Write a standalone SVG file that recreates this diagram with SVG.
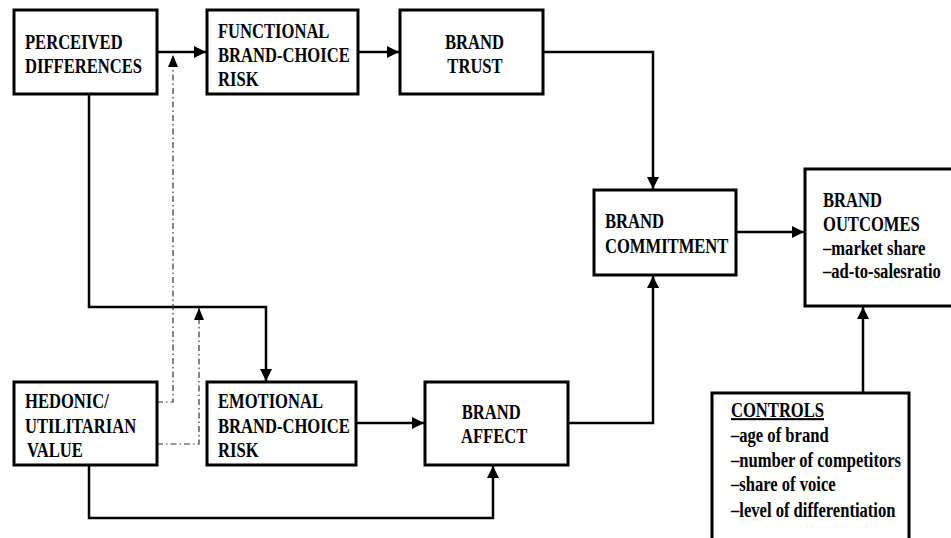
<svg xmlns="http://www.w3.org/2000/svg" width="951" height="538" viewBox="0 0 951 538">
<defs>
<style>
.box{fill:#fff;stroke:#000;stroke-width:3}
.t{font-family:'Liberation Serif','Times New Roman',serif;font-weight:bold;font-size:21px;fill:#000}
.c{fill:none;stroke:#000;stroke-width:2.5}
.d{fill:none;stroke:#333;stroke-width:1.2;stroke-dasharray:6 3 1.5 3}
</style>
<marker id="ah" markerUnits="userSpaceOnUse" markerWidth="12" markerHeight="12" viewBox="0 0 12 12" refX="12" refY="6" orient="auto">
<path d="M0,0 L12,6 L0,12 Z" fill="#000"/>
</marker>
<marker id="ahd" markerUnits="userSpaceOnUse" markerWidth="12" markerHeight="10" viewBox="0 0 12 10" refX="12" refY="5" orient="auto">
<path d="M0,0 L12,5 L0,10 Z" fill="#000"/>
</marker>
</defs>
<rect width="951" height="538" fill="#fff"/>
<g id="connectors">
<path class="c" d="M157,52 H206" marker-end="url(#ah)"/>
<path class="c" d="M358,52 H399" marker-end="url(#ah)"/>
<path class="c" d="M543,52 H653 V189" marker-end="url(#ah)"/>
<path class="c" d="M89,94 V307 H266 V381" marker-end="url(#ah)"/>
<path class="c" d="M356,423 H424" marker-end="url(#ah)"/>
<path class="c" d="M568,423 H653 V276" marker-end="url(#ah)"/>
<path class="c" d="M89,465 V518 H493 V466" marker-end="url(#ah)"/>
<path class="c" d="M736,232 H804" marker-end="url(#ah)"/>
<path class="c" d="M863,393 V307" marker-end="url(#ah)"/>
<path class="d" d="M157,402 H173 V55" marker-end="url(#ahd)"/>
<path class="d" d="M157,444 H199 V308" marker-end="url(#ahd)"/>
</g>
<g id="perceived-differences">
<rect class="box" x="14" y="10" width="143" height="84"/>
<g class="t" transform="translate(25,0) scale(0.79,1)">
<text y="49">PERCEIVED</text>
<text y="73">DIFFERENCES</text>
</g>
</g>
<g id="functional-risk">
<rect class="box" x="207" y="10" width="151" height="84"/>
<g class="t" transform="translate(218,0) scale(0.79,1)">
<text y="38">FUNCTIONAL</text>
<text y="62">BRAND-CHOICE</text>
<text y="86">RISK</text>
</g>
</g>
<g id="brand-trust">
<rect class="box" x="400" y="10" width="143" height="84"/>
<g class="t" transform="translate(445,0) scale(0.79,1)">
<text y="49">BRAND</text>
<text x="3" y="73">TRUST</text>
</g>
</g>
<g id="brand-commitment">
<rect class="box" x="594" y="190" width="142" height="85"/>
<g class="t" transform="translate(605,0) scale(0.79,1)">
<text y="228">BRAND</text>
<text y="253">COMMITMENT</text>
</g>
</g>
<g id="brand-outcomes">
<rect class="box" x="805" y="169" width="148" height="137"/>
<g class="t" transform="translate(823,0) scale(0.79,1)">
<text y="207">BRAND</text>
<text y="231">OUTCOMES</text>
<text y="255">–market share</text>
<text y="278">–ad-to-salesratio</text>
</g>
</g>
<g id="controls">
<rect class="box" x="712" y="393" width="197" height="150"/>
<g class="t" transform="translate(731,0) scale(0.79,1)">
<text y="417" text-decoration="underline">CONTROLS</text>
<text y="442">–age of brand</text>
<text y="467">–number of competitors</text>
<text y="491">–share of voice</text>
<text y="517">–level of differentiation</text>
</g>
</g>
<g id="hedonic-value">
<rect class="box" x="14" y="382" width="143" height="83"/>
<g class="t" transform="translate(25,0) scale(0.79,1)">
<text y="408">HEDONIC/</text>
<text y="433">UTILITARIAN</text>
<text x="2.5" y="457">VALUE</text>
</g>
</g>
<g id="emotional-risk">
<rect class="box" x="207" y="382" width="149" height="83"/>
<g class="t" transform="translate(218,0) scale(0.79,1)">
<text y="408">EMOTIONAL</text>
<text y="433">BRAND-CHOICE</text>
<text y="457">RISK</text>
</g>
</g>
<g id="brand-affect">
<rect class="box" x="425" y="382" width="143" height="83"/>
<g class="t" transform="translate(461,0) scale(0.79,1)">
<text x="1" y="419">BRAND</text>
<text y="443">AFFECT</text>
</g>
</g>
</svg>
